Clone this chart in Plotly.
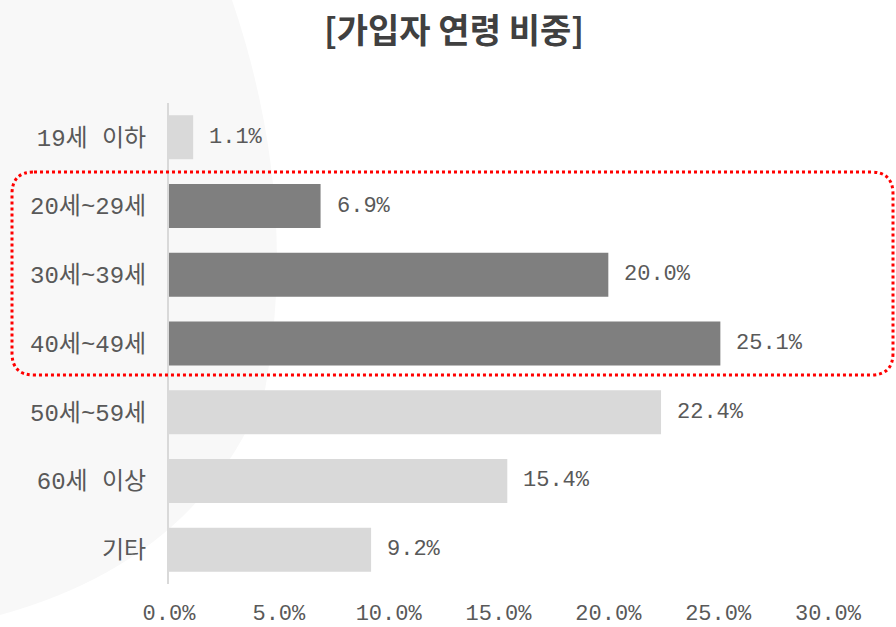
import plotly.graph_objects as go

categories = ["19세 이하", "20세~29세", "30세~39세", "40세~49세", "50세~59세", "60세 이상", "기타"]
values = [1.1, 6.9, 20.0, 25.1, 22.4, 15.4, 9.2]
highlight = [False, True, True, True, False, False, False]
tick_vals = [0, 5, 10, 15, 20, 25, 30]
tick_text = ["0.0%", "5.0%", "10.0%", "15.0%", "20.0%", "25.0%", "30.0%"]
title_text = "[가입자 연령 비중]"

DARK = "#7f7f7f"
LIGHT = "#d9d9d9"
TXT = "#595959"
MONO = "Liberation Mono, Noto Sans CJK KR, monospace"

W, H = 896, 627
L, R, T, B = 169, 68, 103, 43
pw, ph = W - L - R, H - T - B


def px(x):
    return (x - L) / pw


def py(y):
    return (H - B - y) / ph


fig = go.Figure()
fig.add_trace(go.Bar(
    x=values, y=categories, orientation="h",
    marker=dict(color=[DARK if h else LIGHT for h in highlight], line=dict(width=0)),
    hoverinfo="skip", showlegend=False,
))

for c, v in zip(categories, values):
    fig.add_annotation(x=v, y=c, xref="x", yref="y", text=f"{v:.1f}%",
                       showarrow=False, xanchor="left", xshift=14,
                       font=dict(family=MONO, size=22, color=TXT))

# faint background watermark
wm = (f"M {px(0)} {py(0)} L {px(232)} {py(0)} "
      f"Q {px(300)} {py(200)} {px(265)} {py(390)} "
      f"Q {px(200)} {py(560)} {px(0)} {py(615)} Z")
fig.add_shape(type="path", path=wm, xref="paper", yref="paper",
              fillcolor="#f8f8f8", line=dict(width=0), layer="below")

# red dotted rounded highlight box
x0, x1, y0, y1, r = 12, 893, 172, 375, 22
box = (f"M {px(x0 + r)} {py(y0)} L {px(x1 - r)} {py(y0)} "
       f"Q {px(x1)} {py(y0)} {px(x1)} {py(y0 + r)} "
       f"L {px(x1)} {py(y1 - r)} Q {px(x1)} {py(y1)} {px(x1 - r)} {py(y1)} "
       f"L {px(x0 + r)} {py(y1)} Q {px(x0)} {py(y1)} {px(x0)} {py(y1 - r)} "
       f"L {px(x0)} {py(y0 + r)} Q {px(x0)} {py(y0)} {px(x0 + r)} {py(y0)} Z")
fig.add_shape(type="path", path=box, xref="paper", yref="paper",
              line=dict(color="#ff0000", width=3, dash="dot"), layer="above")

fig.update_layout(
    width=W, height=H,
    margin=dict(l=L, r=R, t=T, b=B, pad=0, autoexpand=False),
    paper_bgcolor="white", plot_bgcolor="rgba(0,0,0,0)",
    bargap=0.36,
    title=dict(text=f"<b>{title_text}</b>", x=454 / W, xanchor="center",
               y=1 - 31 / H, yanchor="middle",
               font=dict(family="Noto Sans CJK KR", size=34, color="#404040")),
    xaxis=dict(range=[0, 30], tickvals=tick_vals, ticktext=tick_text,
               showgrid=False, zeroline=False, showline=False, ticks="",
               tickfont=dict(family=MONO, size=22, color=TXT),
               ticklabelstandoff=13, fixedrange=True, automargin=False),
    yaxis=dict(autorange="reversed", showgrid=False, zeroline=False,
               showline=True, linecolor="#d9d9d9", linewidth=2, ticks="",
               tickfont=dict(family=MONO, size=24, color=TXT),
               ticklabelstandoff=16, fixedrange=True, automargin=False),
)

fig.write_html("out.html", config={"displayModeBar": False},
               post_script="document.body.style.margin='0';document.body.style.padding='0';")
